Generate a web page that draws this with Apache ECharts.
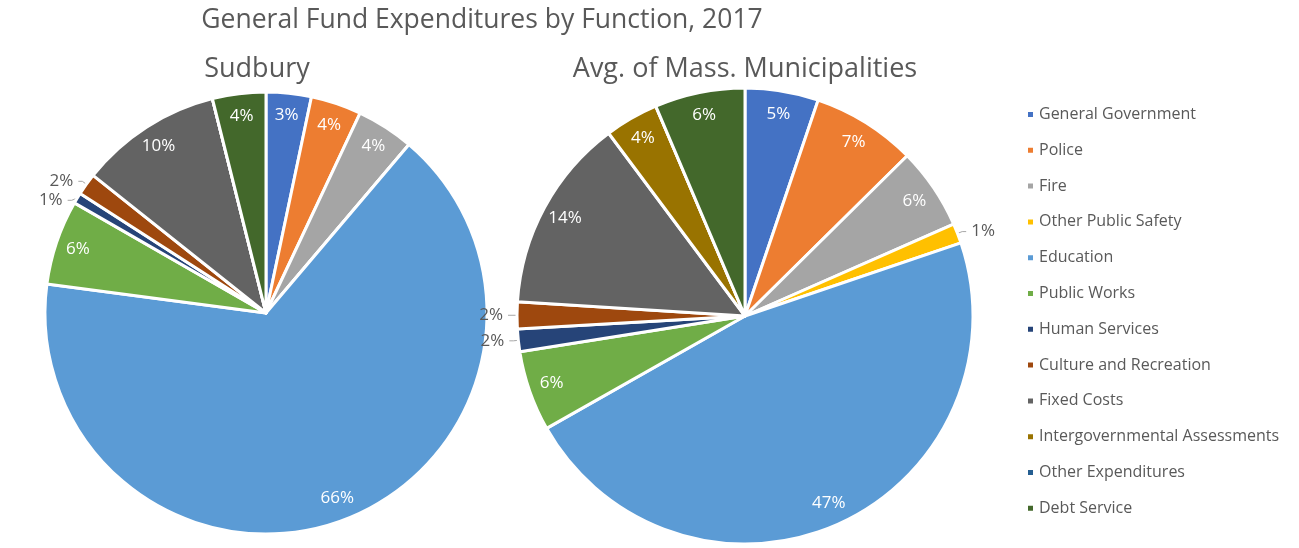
<!DOCTYPE html>
<html>
<head>
<meta charset="utf-8">
<script src="https://cdn.jsdelivr.net/npm/echarts@6/dist/echarts.min.js"></script>
<style>
  html, body { margin: 0; padding: 0; background: #ffffff; }
  #chart { width: 1299px; height: 548px; }
</style>
</head>
<body>
<div id="chart"></div>
<script>
// ---- Data (percent of general fund expenditures, 2017) ----
const categories = [
  'General Government', 'Police', 'Fire', 'Other Public Safety', 'Education',
  'Public Works', 'Human Services', 'Culture and Recreation', 'Fixed Costs',
  'Intergovernmental Assessments', 'Other Expenditures', 'Debt Service'
];
const sudburyValues = [3.3, 3.7, 4.2, 0, 65.9, 6.2, 0.8, 1.6, 10.4, 0, 0, 3.9];
const massAvgValues = [5.2, 7.4, 5.8, 1.4, 47.0, 5.7, 1.6, 1.9, 13.8, 3.8, 0, 6.4];
const chartTitle = 'General Fund Expenditures by Function, 2017';
const pieTitles = ['Sudbury', 'Avg. of Mass. Municipalities'];

const palette = ['#4472C4', '#ED7D31', '#A5A5A5', '#FFC000', '#5B9BD5', '#70AD47',
                 '#264478', '#9E480E', '#636363', '#997300', '#255E91', '#43682B'];

const FONT = '"Open Sans", "Noto Sans", sans-serif';
const TEXT_GRAY = '#595959';

function baseData(values) {
  return categories.map((name, i) => ({ name: name, value: values[i] }));
}

function labelData(values) {
  return categories.map((name, i) => {
    const v = values[i];
    const item = { name: name, value: v };
    if (v <= 0) {
      item.label = { show: false };
      item.labelLine = { show: false };
    } else if (v < 2.5) {
      item.label = { show: true, position: 'outside', color: TEXT_GRAY };
      item.labelLine = { show: true, length: 5, length2: 4, lineStyle: { color: '#A6A6A6', width: 1 } };
    } else {
      item.label = { show: true, position: 'inside', color: '#ffffff' };
      item.labelLine = { show: false };
    }
    return item;
  });
}

function pieSeries(values, center, radius) {
  return [
    {
      type: 'pie',
      center: center,
      radius: radius,
      startAngle: 90,
      clockwise: true,
      silent: true,
      avoidLabelOverlap: false,
      itemStyle: { borderColor: '#ffffff', borderWidth: 3 },
      label: { show: false },
      labelLine: { show: false },
      emphasis: { disabled: true },
      data: baseData(values)
    },
    {
      type: 'pie',
      center: center,
      radius: [radius * 0.77, radius],
      startAngle: 90,
      clockwise: true,
      silent: true,
      avoidLabelOverlap: true,
      itemStyle: { color: 'rgba(0,0,0,0)', borderWidth: 0 },
      label: {
        fontFamily: FONT,
        fontSize: 17,
        formatter: p => Math.round(p.percent) + '%'
      },
      emphasis: { disabled: true },
      data: labelData(values)
    }
  ];
}

const chart = echarts.init(document.getElementById('chart'));
chart.setOption({
  backgroundColor: '#ffffff',
  color: palette,
  animation: false,
  graphic: [
    { type: 'text', x: 482, y: 20, style: { text: chartTitle, fill: TEXT_GRAY, font: '26.5px ' + FONT, textAlign: 'center', textVerticalAlign: 'middle' } },
    { type: 'text', x: 257, y: 69, style: { text: pieTitles[0], fill: TEXT_GRAY, font: '27px ' + FONT, textAlign: 'center', textVerticalAlign: 'middle' } },
    { type: 'text', x: 745, y: 69, style: { text: pieTitles[1], fill: TEXT_GRAY, font: '27px ' + FONT, textAlign: 'center', textVerticalAlign: 'middle' } }
  ],
  legend: {
    orient: 'vertical',
    left: 1021,
    top: 101,
    data: categories,
    icon: 'rect',
    itemWidth: 7,
    itemHeight: 7,
    itemGap: 18.8,
    selectedMode: false,
    textStyle: { color: TEXT_GRAY, fontFamily: FONT, fontSize: 16, lineHeight: 17 }
  },
  series: [].concat(
    pieSeries(sudburyValues, [266, 313], 221),
    pieSeries(massAvgValues, [745, 316], 228)
  )
});
</script>
</body>
</html>
